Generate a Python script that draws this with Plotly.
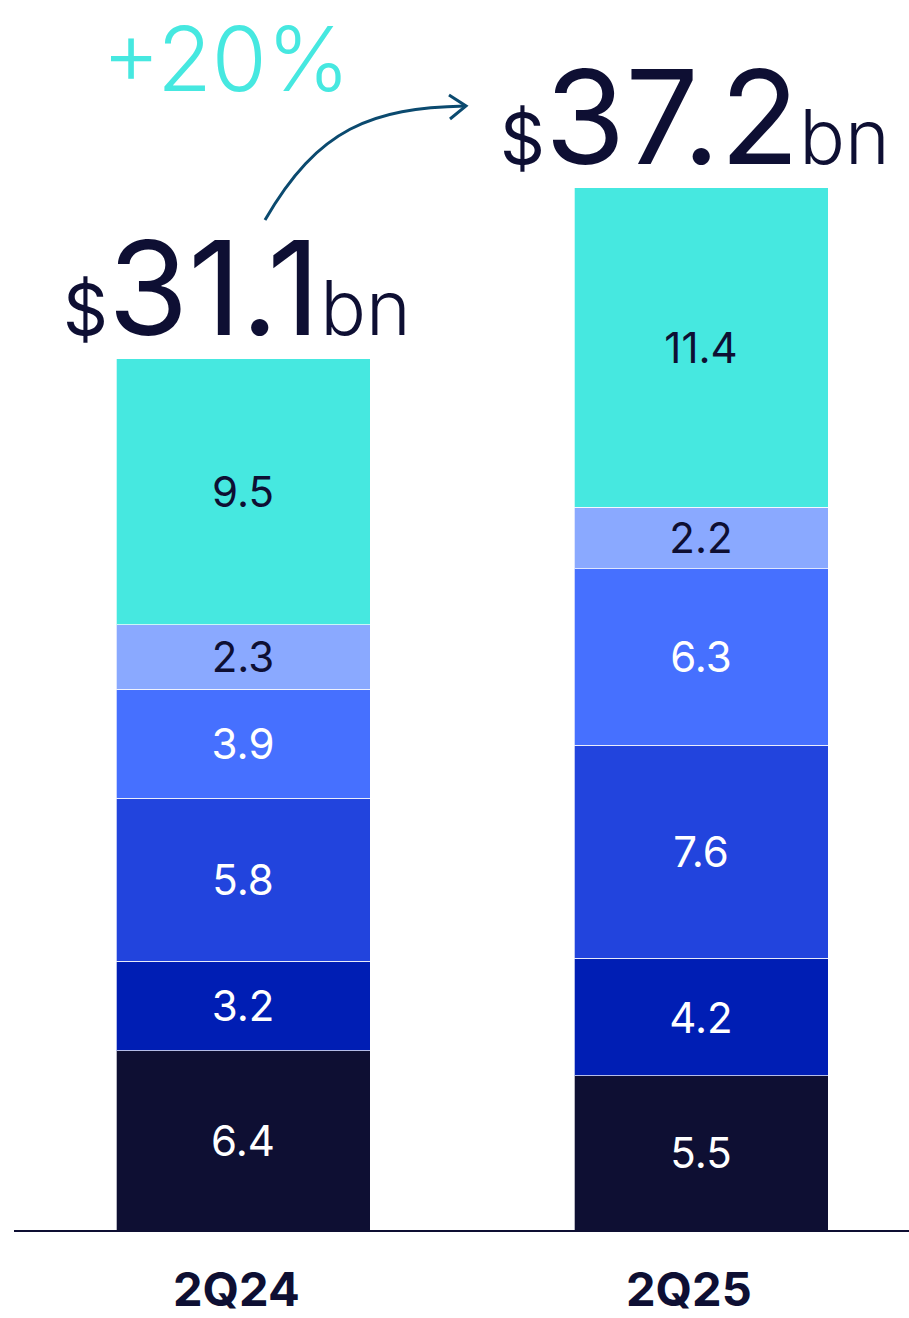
import plotly.graph_objects as go

# ---- data ----
periods = ["2Q24", "2Q25"]
series_names = ["Segment 1", "Segment 2", "Segment 3", "Segment 4", "Segment 5", "Segment 6"]
seg1 = [6.4, 5.5]
seg2 = [3.2, 4.2]
seg3 = [5.8, 7.6]
seg4 = [3.9, 6.3]
seg5 = [2.3, 2.2]
seg6 = [9.5, 11.4]
totals = [31.1, 37.2]
growth_label = "+20%"

series_values = [seg1, seg2, seg3, seg4, seg5, seg6]
colors = ["#0E0F33", "#001EB4", "#2244DD", "#4670FF", "#8AA9FF", "#46E8E0"]
text_colors = ["#FFFFFF", "#FFFFFF", "#FFFFFF", "#FFFFFF", "#0E0F33", "#0E0F33"]

W, H = 909, 1318
L, R, T, B = 14, 0, 0, 88
plot_w = W - L - R
plot_h = H - T - B
px_per_unit = 28.02
y_max = plot_h / px_per_unit

xs = [0, 1]
x_min = -0.5
x_unit = 458.0
x_max = x_min + plot_w / x_unit
bar_w = 254 / x_unit

FONT = "Inter, Roboto, sans-serif"
DARK = "#0E0F33"

fig = go.Figure()
for name, vals, col, tcol in zip(series_names, series_values, colors, text_colors):
    fig.add_trace(go.Bar(
        x=xs, y=vals, name=name, width=bar_w,
        marker=dict(color=col, line=dict(color="rgba(255,255,255,0.7)", width=1)),
        text=[f"{v:.1f}" for v in vals],
        textposition="inside", insidetextanchor="middle", textangle=0,
        constraintext="none",
        textfont=dict(family=FONT, size=42, color=tcol),
        hoverinfo="skip",
    ))

def xp(px):
    return (px - L) / plot_w

def yp(py):
    return (T + plot_h - py) / plot_h

annotations = []
for x, tot in zip(xs, totals):
    annotations.append(dict(
        x=x, y=tot, xref="x", yref="y", xanchor="center", yanchor="bottom",
        yshift=-9, xshift=-6, showarrow=False,
        text=(f"<span style='font-size:70px'>$</span>{tot:.1f}"
              f"<span style='font-size:76px;font-weight:300'>bn</span>"),
        font=dict(family=FONT, size=130, color=DARK),
    ))

label_shifts = [-7, -12]
for x, p, s in zip(xs, periods, label_shifts):
    annotations.append(dict(
        x=x, y=yp(1288), xref="x", yref="paper", xanchor="center", yanchor="middle",
        xshift=s, showarrow=False, text=f"<b>{p}</b>",
        font=dict(family=FONT, size=47, color=DARK),
    ))

annotations.append(dict(
    x=xp(226), y=1.0, xref="paper", yref="paper", xanchor="center", yanchor="top",
    yshift=-3, showarrow=False, text=growth_label,
    font=dict(family=FONT, size=89, color="#46E8E0", weight=300),
))

def pt(px, py):
    return f"{xp(px):.5f},{yp(py):.5f}"

arrow_col = "#0B4A6F"
shapes = [
    dict(type="path", xref="paper", yref="paper",
         path=f"M {pt(265,220)} C {pt(318,128)} {pt(372,108)} {pt(465,106)}",
         line=dict(color=arrow_col, width=3)),
    dict(type="path", xref="paper", yref="paper",
         path=f"M {pt(449,95)} L {pt(466,106)} L {pt(450,119)}",
         line=dict(color=arrow_col, width=3)),
]

fig.update_layout(
    width=W, height=H,
    margin=dict(l=L, r=R, t=T, b=B, pad=0, autoexpand=False),
    paper_bgcolor="white", plot_bgcolor="white",
    barmode="stack", showlegend=False,
    annotations=annotations, shapes=shapes,
    xaxis=dict(range=[x_min, x_max], showticklabels=False, automargin=False,
               showgrid=False, zeroline=False, showline=True, linecolor=DARK, linewidth=2,
               ticks=""),
    yaxis=dict(range=[0, y_max], visible=False, showgrid=False, zeroline=False,
               automargin=False),
)

fig.write_html(
    "out.html",
    config={"displayModeBar": False},
    post_script="document.body.style.margin='0';document.body.style.overflow='hidden';",
)
